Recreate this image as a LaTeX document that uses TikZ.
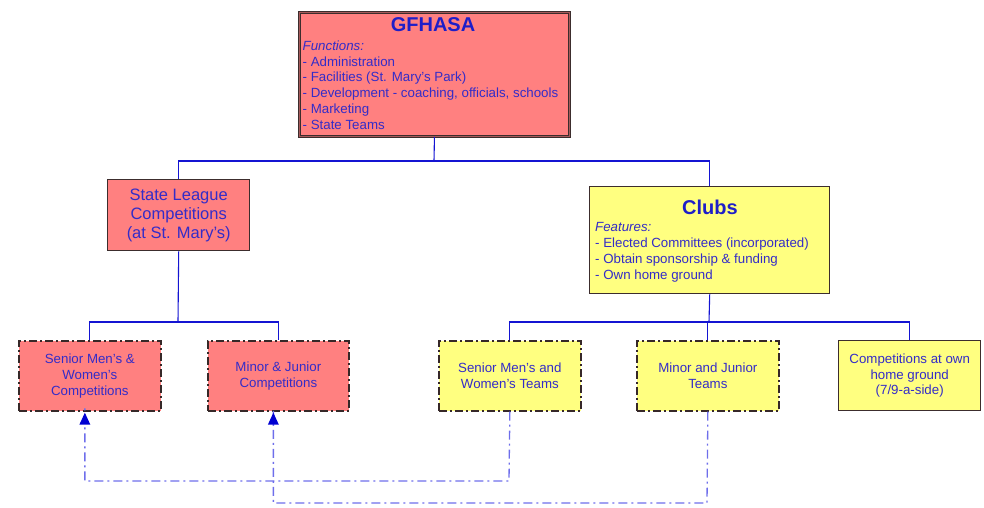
\documentclass[tikz,border=0pt]{standalone}
\usepackage{fontspec}
\setmainfont{Liberation Sans}
\usetikzlibrary{arrows.meta,positioning,calc}
\definecolor{txtblue}{RGB}{52,44,200}
\definecolor{ttlblue}{RGB}{30,30,200}
\definecolor{lnblue}{RGB}{20,20,210}
\definecolor{dshblue}{RGB}{110,110,235}
\definecolor{arrblue}{RGB}{0,0,210}
\definecolor{redfill}{RGB}{255,128,128}
\definecolor{yelfill}{RGB}{255,255,128}
\definecolor{brd}{RGB}{60,45,45}
\definecolor{brdmid}{RGB}{165,90,90}
\tikzset{
  box/.style={draw=brd, line width=1.4pt, text=txtblue, align=center, inner sep=0pt, anchor=north west},
  dbox/.style={box, line width=1.7pt, draw=brd!90!black, dash pattern=on 8pt off 3pt on 2pt off 3pt},
  conn/.style={draw=lnblue, line width=1.1pt},
  dconn/.style={draw=dshblue, line width=1.3pt, dash pattern=on 9pt off 4pt on 2pt off 4pt},
  body/.style={font=\fontsize{13.3}{15.8}\selectfont},
}
\begin{document}
\begin{tikzpicture}[x=1pt,y=-1pt]
\useasboundingbox (0,0) rectangle (984,508);
% top box
\node[box, fill=redfill, draw=brd, double=brdmid, double distance=1.8pt, line width=0.9pt,
      minimum width=270, minimum height=124] (gf) at (299,12) {};
\node[text=ttlblue, font=\fontsize{20}{22}\selectfont\bfseries, anchor=center] (gft) at (433,25) {GFHASA};
\node[text=txtblue, body, align=left, anchor=north west, inner sep=0pt] (gfb) at (302.5,40.5)
  {\itshape Functions:\\- Administration\\- Facilities (St. Mary’s Park)\\- Development - coaching, officials, schools\\- Marketing\\- State Teams};
% level 2
\node[box, fill=redfill, minimum width=142, minimum height=71,
      font=\fontsize{16.5}{19}\selectfont] (sl) at (107,179)
  {State League\\Competitions\\(at St. Mary’s)};
\node[box, fill=yelfill, minimum width=240, minimum height=107] (cl) at (589,186) {};
\node[text=ttlblue, font=\fontsize{20}{22}\selectfont\bfseries, anchor=center] (clt) at (710,207) {Clubs};
\node[text=txtblue, font=\fontsize{13.3}{16}\selectfont, align=left, anchor=north west, inner sep=0pt] (clb) at (595,222)
  {\itshape Features:\\- Elected Committees (incorporated)\\- Obtain sponsorship \& funding\\- Own home ground};
% level 3
\node[dbox, fill=redfill, minimum width=142, minimum height=70, body] (smc) at (18,340)
  {Senior Men’s \&\\Women’s\\Competitions};
\node[dbox, fill=redfill, minimum width=141, minimum height=70, body] (mjc) at (207,340)
  {Minor \& Junior\\Competitions};
\node[dbox, fill=yelfill, minimum width=142, minimum height=70, body] (smt) at (438,340)
  {Senior Men’s and\\Women’s Teams};
\node[dbox, fill=yelfill, minimum width=142, minimum height=70, body] (mjt) at (636,340)
  {Minor and Junior\\Teams};
\node[box, fill=yelfill, minimum width=142, minimum height=70, body] (cog) at (838,340)
  {Competitions at own\\home ground\\(7/9-a-side)};
% solid connectors
\coordinate (j1) at (434,161);
\coordinate (j2) at (178,322);
\coordinate (j3) at (709,322);
\draw[conn] (gf.south) -- (j1);
\draw[conn] (j1) -| (sl.north);
\draw[conn] (j1) -| (cl.north);
\draw[conn] (sl.south) -- (j2);
\draw[conn] (j2) -| (smc.north);
\draw[conn] (j2) -| (mjc.north);
\draw[conn] (cl.south) -- (j3);
\draw[conn] (j3) -| (smt.north);
\draw[conn] (j3) -| (mjt.north);
\draw[conn] (j3) -| (cog.north);
% dashed connectors
\coordinate (d1) at (509,481);
\coordinate (d2) at (707,503);
\draw[dconn] (smt.south) -- (d1) -| ([xshift=-5pt,yshift=4pt]smc.south);
\draw[dconn] (mjt.south) -- (d2) -| ([xshift=-5pt,yshift=4pt]mjc.south);
\fill[arrblue] ([xshift=-5pt]smc.south) ++(0,1) -- ++(-5.5,12) -- ++(11,0) -- cycle;
\fill[arrblue] ([xshift=-5pt]mjc.south) ++(0,1) -- ++(-5.5,12) -- ++(11,0) -- cycle;
\end{tikzpicture}
\end{document}
